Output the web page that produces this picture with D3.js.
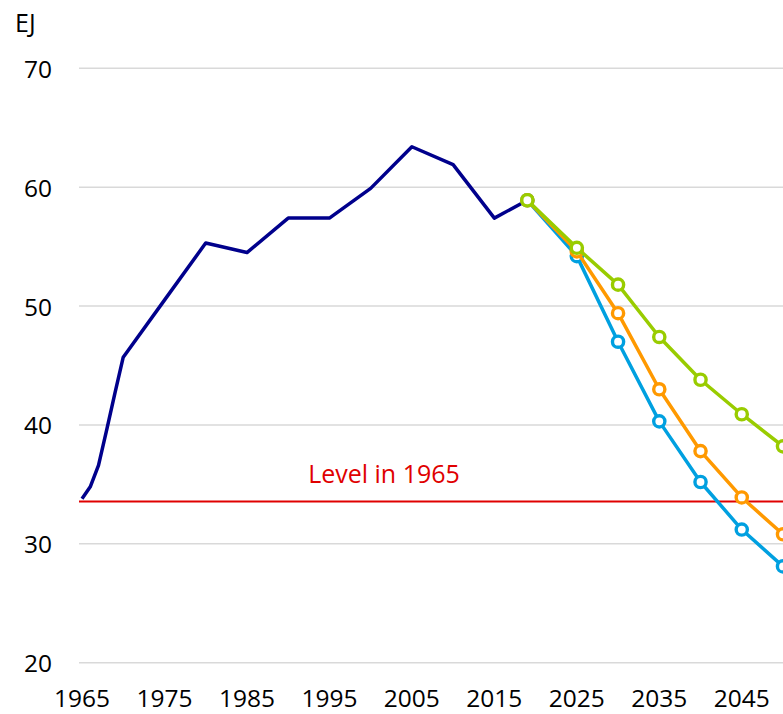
<!DOCTYPE html>
<html lang="en">

<head>
  <meta charset="utf-8">
  <title>EJ scenarios</title>
  <script src="https://d3js.org/d3.v7.min.js"></script>
  <style>
    body { margin: 0; background: #fff; }
    text { font-family: "Open Sans", "Noto Sans", sans-serif; fill: #000; }
  </style>
</head>

<body>
  <script>
    //config
    const width = 783, height = 714;
    const gridLeft = 79;

    // data
    const histYears = [1965, 1966, 1967, 1968, 1969, 1970, 1975, 1980, 1985, 1990, 1995, 2000, 2005, 2010, 2015, 2019];
    const histValues = [33.8, 34.8, 36.6, 39.6, 42.7, 45.7, 50.5, 55.3, 54.5, 57.4, 57.4, 59.9, 63.4, 61.9, 57.4, 58.9];

    const scenarioYears = [2019, 2025, 2030, 2035, 2040, 2045, 2050];
    const blueValues = [58.9, 54.2, 47.0, 40.3, 35.2, 31.2, 28.1];
    const orangeValues = [58.9, 54.6, 49.4, 43.0, 37.8, 33.9, 30.8];
    const greenValues = [58.9, 54.9, 51.8, 47.4, 43.8, 40.9, 38.2];

    const level1965 = 33.55;
    const yTicks = [20, 30, 40, 50, 60, 70];
    const xTicks = [1965, 1975, 1985, 1995, 2005, 2015, 2025, 2035, 2045];

    const x = d3.scaleLinear().domain([1965, 2050]).range([82, 783]);
    const y = d3.scaleLinear().domain([20, 70]).range([662.7, 68.3]);

    const svg = d3.select("body").append("svg")
      .attr("width", width).attr("height", height);

    // gridlines
    svg.append("g").selectAll("line")
      .data(yTicks).join("line")
      .attr("x1", gridLeft).attr("x2", width)
      .attr("y1", d => y(d)).attr("y2", d => y(d))
      .attr("stroke", "#d9d9d9").attr("stroke-width", 1.6);

    // y labels
    svg.append("g").selectAll("text")
      .data(yTicks).join("text")
      .attr("x", 52).attr("y", d => y(d))
      .attr("text-anchor", "end").attr("dominant-baseline", "central")
      .style("font-size", "24.5px")
      .text(d => d);

    svg.append("text").attr("x", 15).attr("y", 32)
      .style("font-size", "25px").text("EJ");

    // x labels
    svg.append("g").selectAll("text")
      .data(xTicks).join("text")
      .attr("x", d => x(d)).attr("y", 707)
      .attr("text-anchor", "middle")
      .style("font-size", "24.5px")
      .text(d => d);

    // 1965 level
    svg.append("line")
      .attr("x1", gridLeft).attr("x2", width)
      .attr("y1", y(level1965)).attr("y2", y(level1965))
      .attr("stroke", "#e00000").attr("stroke-width", 2);
    svg.append("text")
      .attr("x", 384).attr("y", 483)
      .attr("text-anchor", "middle")
      .style("font-size", "25px").style("fill", "#e00000")
      .text("Level in 1965");

    const line = d3.line().x(d => x(d[0])).y(d => y(d[1]));

    // history
    svg.append("path")
      .datum(histYears.map((yr, i) => [yr, histValues[i]]))
      .attr("d", line)
      .attr("fill", "none").attr("stroke", "#00008c")
      .attr("stroke-width", 3.5).attr("stroke-linejoin", "round");

    // scenarios
    const scenarios = [
      { values: blueValues, color: "#00a0e0" },
      { values: orangeValues, color: "#ff9900" },
      { values: greenValues, color: "#99cc00" }
    ];

    scenarios.forEach(s => {
      const pts = scenarioYears.map((yr, i) => [yr, s.values[i]]);
      const g = svg.append("g");
      g.append("path").datum(pts)
        .attr("d", line)
        .attr("fill", "none").attr("stroke", s.color)
        .attr("stroke-width", 3.5).attr("stroke-linejoin", "round");
      g.selectAll("circle").data(pts).join("circle")
        .attr("cx", d => x(d[0])).attr("cy", d => y(d[1]))
        .attr("r", 5.6)
        .attr("fill", "#fff").attr("stroke", s.color).attr("stroke-width", 3.4);
    });
  </script>
</body>

</html>
